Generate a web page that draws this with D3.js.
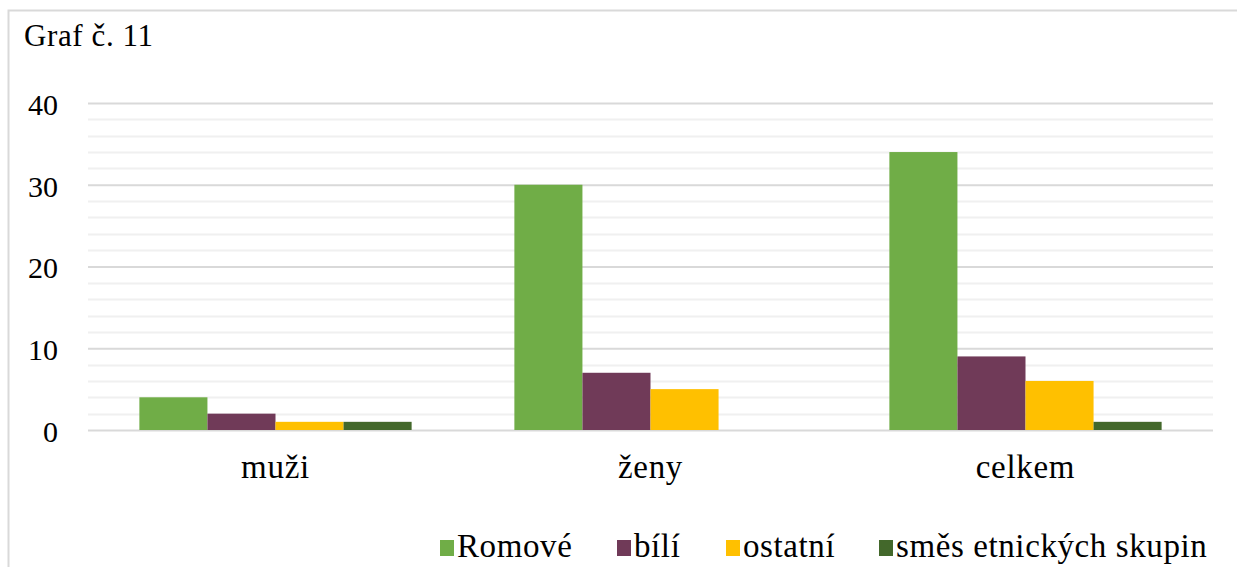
<!DOCTYPE html>
<html>
<head>
<meta charset="utf-8">
<script src="https://cdn.jsdelivr.net/npm/d3@7"></script>
<style>
  html, body { margin: 0; padding: 0; background: #fff; }
  svg { display: block; }
  svg text { font-family: "Liberation Serif", "Times New Roman", serif; fill: #000; }
</style>
</head>
<body>
<svg id="chart" width="1237" height="567"></svg>
<script>
// Data
const categories = ["muži", "ženy", "celkem"];
const seriesNames = ["Romové", "bílí", "ostatní", "směs etnických skupin"];
const romove = [4, 30, 34];
const bili = [2, 7, 9];
const ostatni = [1, 5, 6];
const smes = [1, 0, 1];
const majorTicks = [0, 10, 20, 30, 40];
const minorTicks = [2, 4, 6, 8, 12, 14, 16, 18, 22, 24, 26, 28, 32, 34, 36, 38];
const colors = ["#70ad47", "#703a58", "#ffc000", "#43682b"];

const seriesValues = [romove, bili, ostatni, smes];
const serif = "'Liberation Serif', 'Times New Roman', serif";

const svg = d3.select("#chart");

// Outer frame
svg.append("rect")
  .attr("x", 8.5).attr("y", 10.5)
  .attr("width", 1240).attr("height", 600)
  .attr("fill", "none").attr("stroke", "#d9d9d9").attr("stroke-width", 2);

// Title
svg.append("text")
  .attr("x", 24).attr("y", 46)
  .attr("font-size", 31)
  .attr("font-family", serif)
  .attr("letter-spacing", 0.6)
  .text("Graf č. 11");

const plot = { left: 88, right: 1213, top: 103, bottom: 430 };

const y = d3.scaleLinear().domain([0, 40]).range([plot.bottom, plot.top]);
const x0 = d3.scaleBand().domain(categories).range([plot.left, plot.right]).paddingInner(0.274).paddingOuter(0.137);
const x1 = d3.scaleBand().domain(d3.range(seriesNames.length)).range([0, x0.bandwidth()]);

// Minor gridlines
svg.append("g").selectAll("line").data(minorTicks).join("line")
  .attr("x1", plot.left).attr("x2", plot.right)
  .attr("y1", d => Math.round(y(d)) + 0.5).attr("y2", d => Math.round(y(d)) + 0.5)
  .attr("stroke", "#f0f0f0").attr("stroke-width", 2);

// Major gridlines via axis
const yAxis = d3.axisLeft(y).tickValues(majorTicks).tickSize(-(plot.right - plot.left)).tickPadding(0);
const gy = svg.append("g").attr("transform", `translate(${plot.left},0)`).call(yAxis);
gy.attr("font-family", serif);
gy.select(".domain").remove();
gy.selectAll(".tick line").attr("stroke", "#d9d9d9").attr("stroke-width", 2);
gy.selectAll(".tick text")
  .attr("x", -30).attr("dy", "0.38em")
  .attr("font-size", 30)
  .attr("fill", "#000");

// Bars
const groups = svg.append("g").selectAll("g").data(categories).join("g")
  .attr("transform", d => `translate(${x0(d)},0)`);
groups.selectAll("rect")
  .data((c, ci) => seriesValues.map((vals, si) => ({ si, v: vals[ci] })))
  .join("rect")
  .attr("x", d => x1(d.si))
  .attr("width", x1.bandwidth())
  .attr("y", d => y(d.v))
  .attr("height", d => y(0) - y(d.v))
  .attr("fill", d => colors[d.si]);

// Category axis labels
const xAxis = d3.axisBottom(x0).tickSize(0).tickPadding(0);
const gx = svg.append("g").attr("transform", `translate(0,${plot.bottom})`).call(xAxis);
gx.attr("font-family", serif);
gx.select(".domain").remove();
gx.selectAll(".tick text")
  .attr("y", 48).attr("dy", 0)
  .attr("font-size", 33)
  .attr("letter-spacing", 0.7)
  .attr("fill", "#000");

// Legend
const legendX = [440, 617, 726, 879];
const legend = svg.append("g").selectAll("g").data(seriesNames).join("g")
  .attr("transform", (d, i) => `translate(${legendX[i]},0)`);
legend.append("rect")
  .attr("x", 0).attr("y", 540).attr("width", 14).attr("height", 16)
  .attr("fill", (d, i) => colors[i]);
legend.append("text")
  .attr("x", 17).attr("y", 557)
  .attr("font-size", 33)
  .attr("letter-spacing", 0.6)
  .attr("font-family", serif)
  .text(d => d);
</script>
</body>
</html>
